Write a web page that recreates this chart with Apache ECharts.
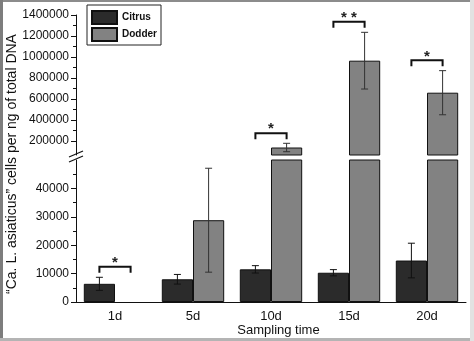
<!DOCTYPE html>
<html><head><meta charset="utf-8">
<script src="https://cdn.jsdelivr.net/npm/echarts@6/dist/echarts.min.js"></script>
<style>html,body{margin:0;padding:0;background:#fff}#c{width:474px;height:341px}</style>
</head><body><div id="c"></div>
<script>
const categories = ['1d', '5d', '10d', '15d', '20d'];
const citrusMean = [6400, 8000, 11500, 10300, 14600];
const citrusErr = [2300, 1700, 1300, 1100, 6100];
const dodderMean = [0, 28800, 138000, 965000, 660000];
const dodderErr = [0, 18300, 40000, 270000, 210000];
const upperTicks = [200000, 400000, 600000, 800000, 1000000, 1200000, 1400000];
const upperMinorTicks = [300000, 500000, 700000, 900000, 1100000, 1300000];
const lowerTicks = [0, 10000, 20000, 30000, 40000];
const lowerMinorTicks = [5000, 15000, 25000, 35000, 45000];
const sigLower = [[0, 12400, '*']];
const sigUpper = [[2, 273000, '*'], [3, 1336000, '* *'], [4, 968000, '*']];

const UPPER_MIN = 66667, UPPER_MAX = 1400000, LOWER_MAX = 50000;
const FONT = '"Liberation Sans", Arial, sans-serif';

const chart = echarts.init(document.getElementById('c'), null, {renderer: 'canvas'});

function errRender(side, color) {
  return function (params, api) {
    const x = api.value(0), lo = api.value(1), hi = api.value(2);
    const band = api.size([1, 0])[0];
    const pLo = api.coord([x, lo]), pHi = api.coord([x, hi]);
    const cx = pLo[0] + side * band * 0.2;
    const w = 3.5;
    const st = {stroke: color, lineWidth: 1};
    return {type: 'group', children: [
      {type: 'line', shape: {x1: cx, y1: pLo[1], x2: cx, y2: pHi[1]}, style: st},
      {type: 'line', shape: {x1: cx - w, y1: pHi[1], x2: cx + w, y2: pHi[1]}, style: st},
      {type: 'line', shape: {x1: cx - w, y1: pLo[1], x2: cx + w, y2: pLo[1]}, style: st}
    ]};
  };
}
function sigRender(arr) {
  return function (params, api) {
    const x = api.value(0), y = api.value(1);
    const band = api.size([1, 0])[0];
    const p = api.coord([x, y]);
    const x1 = p[0] - band * 0.2, x2 = p[0] + band * 0.2;
    return {type: 'group', children: [
      {type: 'polyline', shape: {points: [[x1, p[1] + 6], [x1, p[1]], [x2, p[1]], [x2, p[1] + 6]]},
        style: {stroke: '#111', lineWidth: 2, fill: null}},
      {type: 'text', x: p[0], y: p[1] - 4,
        style: {text: arr[params.dataIndex][2], align: 'center', verticalAlign: 'middle',
          font: 'bold 15px ' + FONT, fill: '#222'}}
    ]};
  };
}

const citrusErrData = citrusMean.map((m, i) => [i, m - citrusErr[i], m + citrusErr[i]]);
const dodderErrLower = dodderMean.map((m, i) => [i, m - dodderErr[i], m + dodderErr[i]])
  .filter(d => d[2] > d[1] && d[2] <= LOWER_MAX);
const dodderErrUpper = dodderMean.map((m, i) => [i, m - dodderErr[i], m + dodderErr[i]])
  .filter(d => dodderMean[d[0]] > UPPER_MIN);
const dodderUpper = dodderMean.map(v => v > UPPER_MIN ? v : '-');
const dodderLower = dodderMean.map(v => v > 0 ? v : '-');
const plain = v => String(Math.round(v));

const barBase = {type: 'bar', barGap: '0%', barCategoryGap: '20%', animation: false};
const citrusStyle = {color: '#2b2b2b', borderColor: '#111', borderWidth: 1};
const dodderStyle = {color: '#828282', borderColor: '#111', borderWidth: 1};

const option = {
  backgroundColor: '#fff',
  animation: false,
  textStyle: {fontFamily: FONT},
  grid: [
    {left: 76, right: 8, top: 15, height: 140},
    {left: 76, right: 8, top: 160, height: 142}
  ],
  legend: {
    data: ['Citrus', 'Dodder'], orient: 'vertical', left: 87, top: 5,
    borderColor: '#222', borderWidth: 1, padding: [5, 4, 3, 4], itemGap: 2,
    itemWidth: 25, itemHeight: 13, icon: 'rect', selectedMode: false,
    textStyle: {fontSize: 10, fontWeight: 'bold', color: '#111', fontFamily: FONT}
  },
  xAxis: [
    {type: 'category', gridIndex: 0, data: categories, axisLine: {show: false},
      axisTick: {show: false}, axisLabel: {show: false}},
    {type: 'category', gridIndex: 1, data: categories, position: 'bottom',
      axisLine: {lineStyle: {color: '#111', width: 1}},
      axisTick: {alignWithLabel: true, length: 5, lineStyle: {color: '#111'}},
      axisLabel: {fontSize: 13, color: '#111', margin: 8},
      name: 'Sampling time', nameLocation: 'middle', nameGap: 21,
      nameTextStyle: {fontSize: 13, color: '#111', padding: [0, 0, 0, 15]}},
    {type: 'category', gridIndex: 1, data: categories, position: 'bottom', offset: 0,
      axisLine: {show: false}, axisLabel: {show: false},
      axisTick: {length: 3, interval: 0, lineStyle: {color: '#111'}}}
  ],
  yAxis: [
    {type: 'value', gridIndex: 0, min: UPPER_MIN, max: UPPER_MAX, position: 'left',
      axisLine: {show: true, lineStyle: {color: '#111'}}, splitLine: {show: false},
      axisTick: {show: true, length: 5, customValues: upperTicks, lineStyle: {color: '#111'}},
      axisLabel: {customValues: upperTicks, fontSize: 12, color: '#111', margin: 7, formatter: plain}},
    {type: 'value', gridIndex: 0, min: UPPER_MIN, max: UPPER_MAX, position: 'left', offset: 0,
      axisLine: {show: false}, splitLine: {show: false},
      axisTick: {show: true, length: 3, customValues: upperMinorTicks, lineStyle: {color: '#111'}},
      axisLabel: {show: false, customValues: upperMinorTicks}},
    {type: 'value', gridIndex: 1, min: 0, max: LOWER_MAX, position: 'left',
      axisLine: {show: true, lineStyle: {color: '#111'}}, splitLine: {show: false},
      axisTick: {show: true, length: 5, customValues: lowerTicks, lineStyle: {color: '#111'}},
      axisLabel: {customValues: lowerTicks, fontSize: 12, color: '#111', margin: 7, formatter: plain}},
    {type: 'value', gridIndex: 1, min: 0, max: LOWER_MAX, position: 'left', offset: 0,
      axisLine: {show: false}, splitLine: {show: false},
      axisTick: {show: true, length: 3, customValues: lowerMinorTicks, lineStyle: {color: '#111'}},
      axisLabel: {show: false, customValues: lowerMinorTicks}}
  ],
  series: [
    Object.assign({}, barBase, {name: 'Citrus', xAxisIndex: 0, yAxisIndex: 0,
      data: citrusMean.map(() => '-'), itemStyle: citrusStyle}),
    Object.assign({}, barBase, {name: 'Dodder', xAxisIndex: 0, yAxisIndex: 0,
      data: dodderUpper, itemStyle: dodderStyle}),
    Object.assign({}, barBase, {name: 'Citrus', xAxisIndex: 1, yAxisIndex: 2,
      data: citrusMean, itemStyle: citrusStyle}),
    Object.assign({}, barBase, {name: 'Dodder', xAxisIndex: 1, yAxisIndex: 2,
      data: dodderLower, itemStyle: dodderStyle}),
    {type: 'custom', xAxisIndex: 1, yAxisIndex: 2, data: citrusErrData,
      renderItem: errRender(-1, '#111'), z: 5},
    {type: 'custom', xAxisIndex: 1, yAxisIndex: 2, data: dodderErrLower,
      renderItem: errRender(1, '#333'), z: 5},
    {type: 'custom', xAxisIndex: 0, yAxisIndex: 0, data: dodderErrUpper,
      renderItem: errRender(1, '#333'), z: 5},
    {type: 'custom', xAxisIndex: 1, yAxisIndex: 2, data: sigLower.map(d => [d[0], d[1]]),
      renderItem: sigRender(sigLower), z: 5},
    {type: 'custom', xAxisIndex: 0, yAxisIndex: 0, data: sigUpper.map(d => [d[0], d[1]]),
      renderItem: sigRender(sigUpper), z: 5}
  ],
  graphic: [
    {type: 'text', x: 12, y: 164, rotation: Math.PI / 2,
      style: {text: '\u201CCa. L. asiaticus\u201D cells per ng of total DNA', align: 'center',
        verticalAlign: 'middle', font: '14px ' + FONT, fill: '#111'}},
    {type: 'line', shape: {x1: 69, y1: 157, x2: 83, y2: 151}, style: {stroke: '#111', lineWidth: 1.2}},
    {type: 'line', shape: {x1: 69, y1: 162, x2: 83, y2: 156}, style: {stroke: '#111', lineWidth: 1.2}},
    {type: 'rect', shape: {x: 0, y: 0, width: 474, height: 2}, style: {fill: '#8c8c8c'}, z: 100},
    {type: 'rect', shape: {x: 0, y: 0, width: 3, height: 341}, style: {fill: '#7d7d7d'}, z: 100},
    {type: 'rect', shape: {x: 0, y: 338, width: 474, height: 3}, style: {fill: '#b4b4b4'}, z: 100},
    {type: 'rect', shape: {x: 470, y: 0, width: 4, height: 341}, style: {fill: '#e2e2e2'}, z: 100}
  ]
};
chart.setOption(option);
</script>
</body></html>
